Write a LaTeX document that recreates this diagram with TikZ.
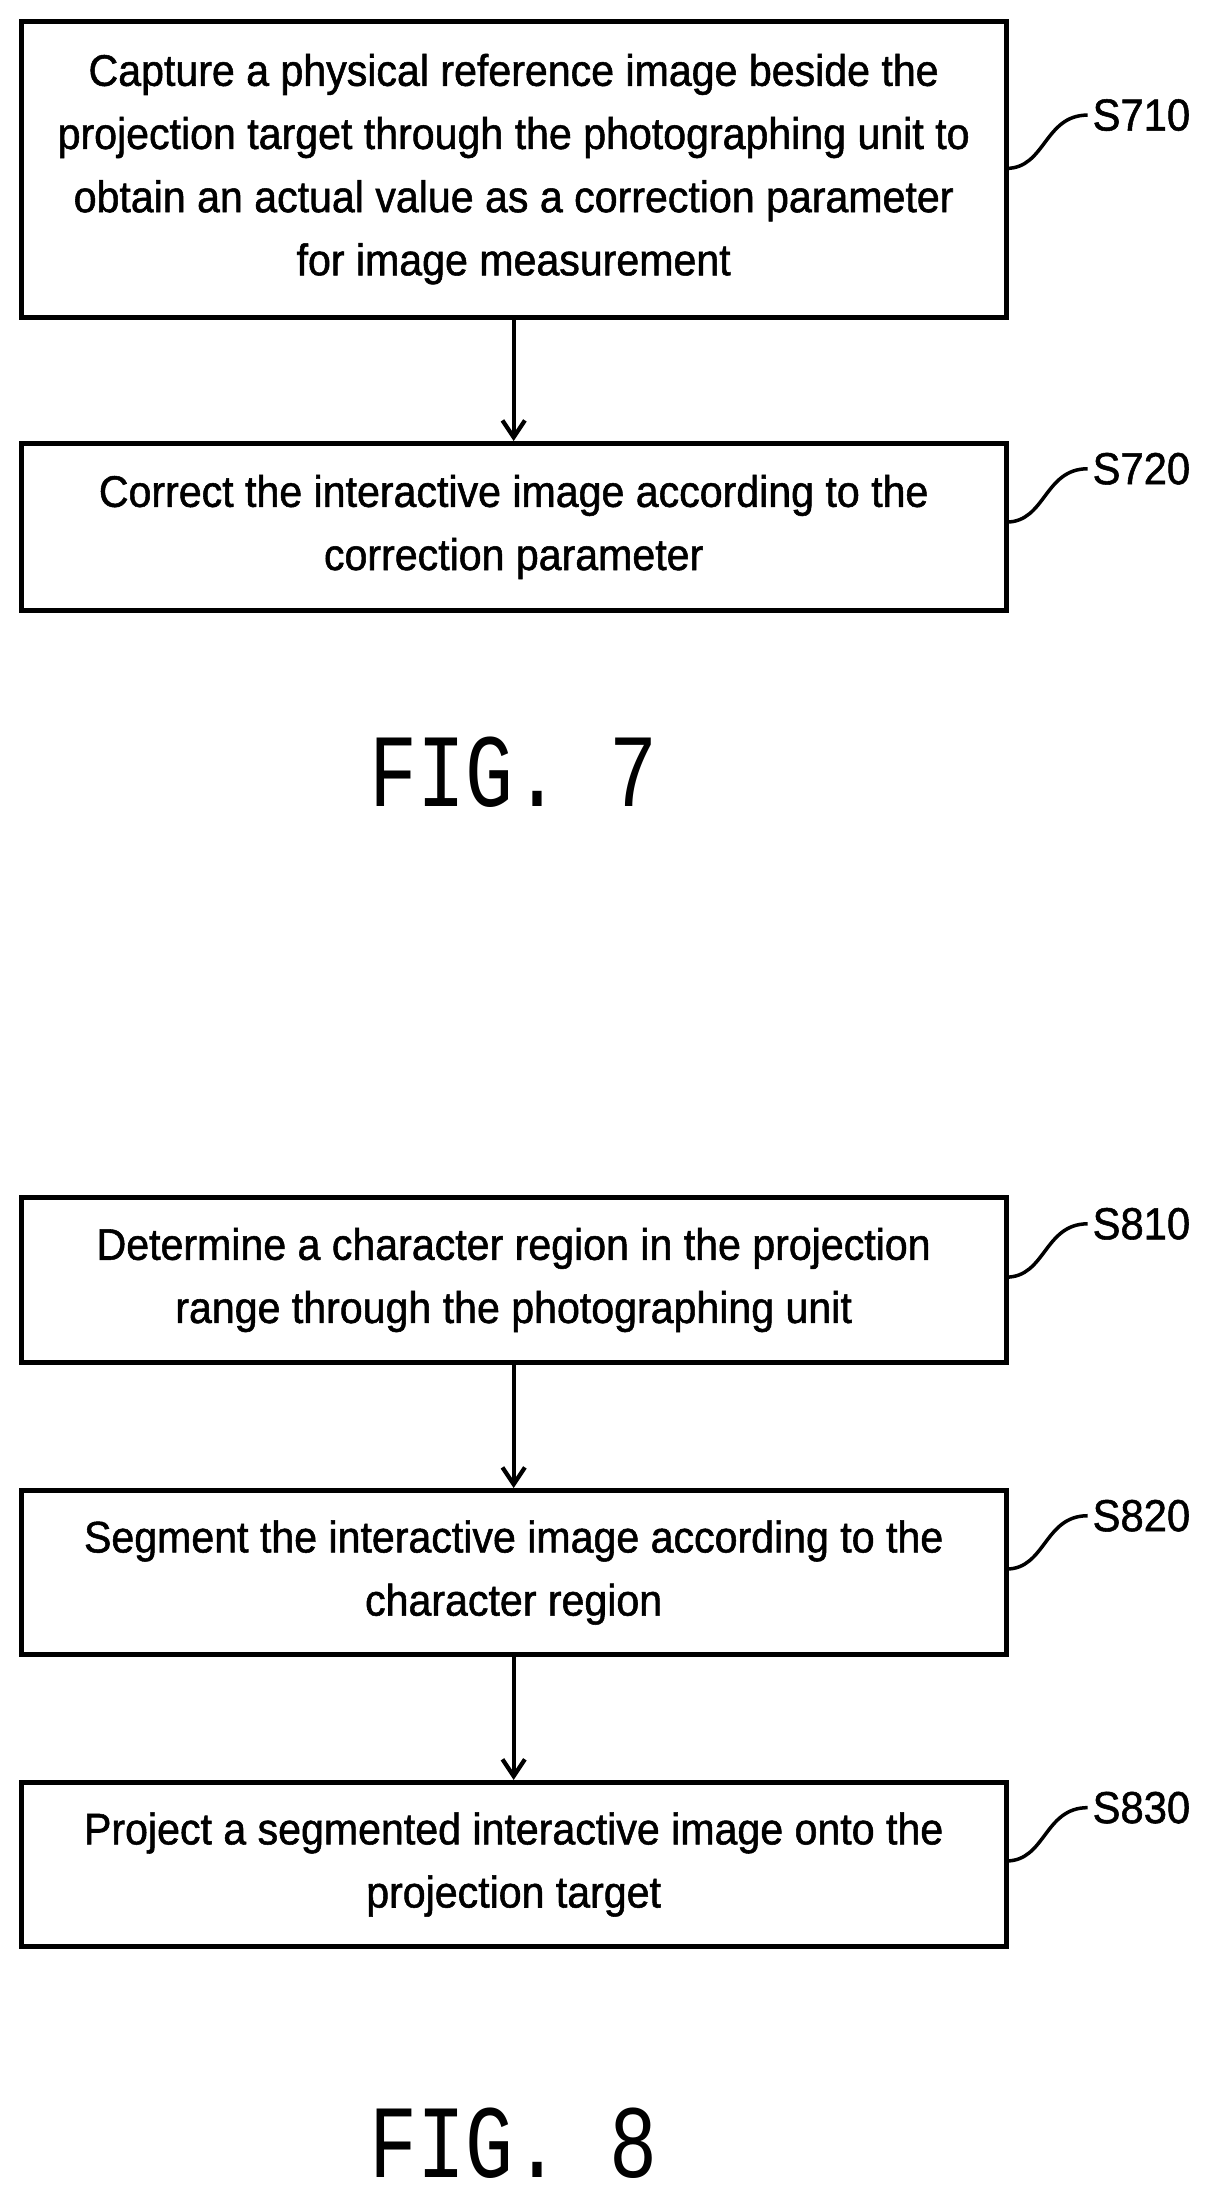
\documentclass[tikz,border=0pt]{standalone}
\usepackage{fontspec}
\setmainfont{Liberation Sans}[FakeStretch=0.93,FakeBold=1.2]
\newfontfamily\figfont{Liberation Mono}
\usetikzlibrary{arrows.meta}
\begin{document}
\begin{tikzpicture}[x=1pt,y=-1pt,
  box/.style={draw,line width=3.5pt,minimum width=702pt,align=center,inner sep=0pt,
    font=\fontsize{31.5}{45}\selectfont},
  lab/.style={font=\fontsize{32}{36}\selectfont,anchor=west},
  arr/.style={line width=3pt,-{Straight Barb[length=12pt,width=16pt]}},
  sq/.style={line width=2.5pt},
  fig/.style={font=\figfont\fontsize{57}{60}\selectfont,yscale=1.3,transform shape}]
\useasboundingbox (0,0) rectangle (860,1569);
\node[box,minimum height=211pt] (s710) at (366,120.5) {Capture a physical reference image beside the\\projection target through the photographing unit to\\obtain an actual value as a correction parameter\\for image measurement};
\node[box,minimum height=119pt] (s720) at (366,375.5) {Correct the interactive image according to the\\correction parameter};
\node[fig] (f7) at (366,550) {FIG. 7};
\node[box,minimum height=118pt] (s810) at (366,912) {Determine a character region in the projection\\range through the photographing unit};
\node[box,minimum height=117pt] (s820) at (366,1120.5) {Segment the interactive image according to the\\character region};
\node[box,minimum height=117pt] (s830) at (366,1328.5) {Project a segmented interactive image onto the\\projection target};
\node[fig] (f8) at (366,1527) {FIG. 8};
\draw[arr] (s710) -- (s720);
\draw[arr] (s810) -- (s820);
\draw[arr] (s820) -- (s830);
\foreach \n/\t/\y in {s710/S710/82, s720/S720/334, s810/S810/872, s820/S820/1080, s830/S830/1288}{
  \node[lab] (l\n) at (775,\y) {\t};
  \coordinate (e\n) at (717,\y+38);
  \draw[sq] (e\n) .. controls (745,\y+38) and (744,\y) .. (l\n.west);
}
\end{tikzpicture}
\end{document}
